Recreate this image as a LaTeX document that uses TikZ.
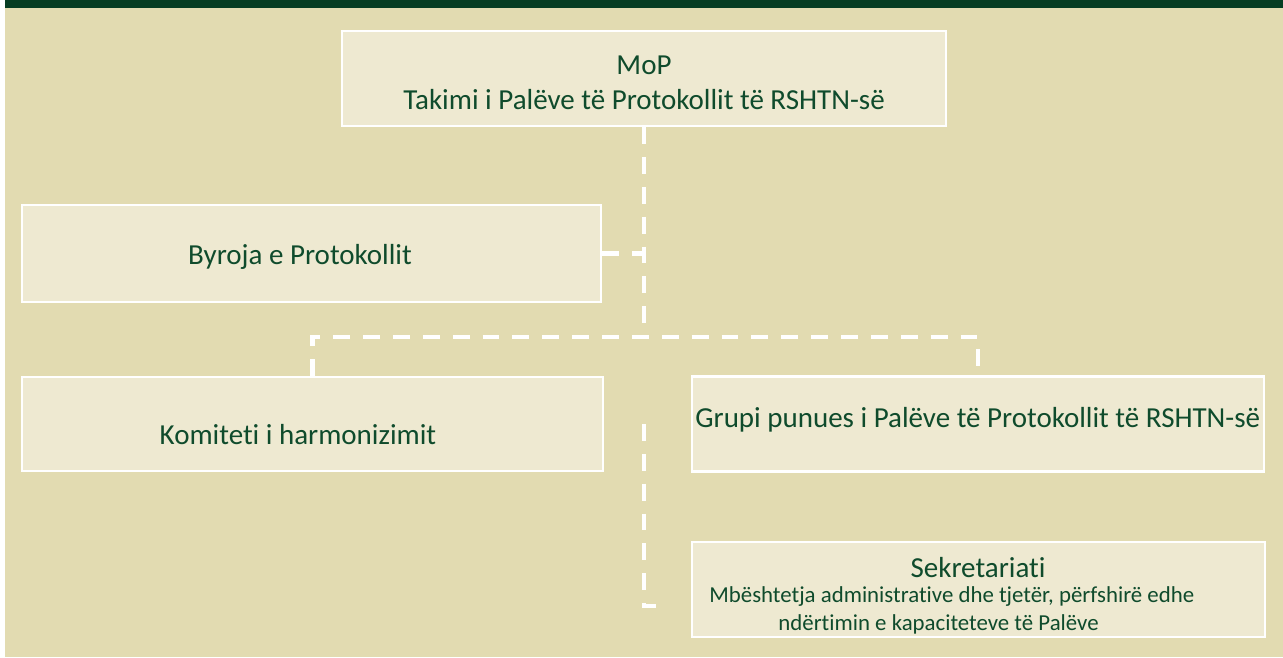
\documentclass[tikz,border=0pt]{standalone}
\usepackage{fontspec}
\setmainfont{Carlito}[Ligatures=NoCommon]
\definecolor{bandgreen}{HTML}{063D22}
\definecolor{beige}{HTML}{E2DBB1}
\definecolor{boxfill}{HTML}{EEE9D1}
\definecolor{textgreen}{HTML}{0F4B2C}
\begin{document}
\begin{tikzpicture}[x=0.02cm,y=-0.02cm,
  box/.style={draw=white,line width=1.2pt,fill=boxfill,inner sep=0pt},
  txt/.style={text=textgreen,font=\fontsize{16.5}{19.8}\selectfont,align=center,inner sep=0pt},
  small/.style={txt,font=\fontsize{13}{15}\selectfont},
  conn/.style={draw=white,line width=2.3pt,dash pattern=on 9.6pt off 7.4pt}]
\useasboundingbox (0,0) rectangle (1283,658);
\fill[white] (0,0) rectangle (1283,658);
\fill[beige] (5,8) rectangle (1283,657);
\fill[bandgreen] (5,0) rectangle (1283,8);
\node[box,minimum width=12.08cm,minimum height=1.9cm] (mop) at (644,78.5) {};
\node[box,minimum width=11.58cm,minimum height=1.94cm] (byr) at (311.5,253.5) {};
\node[box,minimum width=11.62cm,minimum height=1.88cm] (kom) at (312.5,424) {};
\node[box,minimum width=11.44cm,minimum height=1.9cm] (grp) at (978,424) {};
\node[box,minimum width=11.46cm,minimum height=1.9cm] (sek) at (978.5,589.5) {};
\node[txt] (moptxt) at (644,83) {MoP\\Takimi i Palëve të Protokollit të RSHTN-së};
\node[txt] (byrtxt) at (300,257) {Byroja e Protokollit};
\node[txt] (komtxt) at (298,435) {Komiteti i harmonizimit};
\node[txt,anchor=west] (grptxt) at (695,420) {Grupi punues i Palëve të Protokollit të RSHTN-së};
\node[txt] (sektxt) at (978,568) {Sekretariati};
\node[small,anchor=west] (sekline) at (709,597) {Mbështetja administrative dhe tjetër, përfshirë edhe};
\node[small] (seklast) at (938.5,624) {ndërtimin e kapaciteteve të Palëve};
\coordinate (split) at (644,337);
\coordinate (sekjoint) at (644,606);
\draw[conn] (mop.south) -- (split);
\draw[conn] (byr.east) -- (byr.east -| split);
\draw[conn] (kom.north) |- (split) -| (grp.north);
\draw[conn] (grp.west -| sekjoint) -- (sekjoint) -- ++(12,0);
\end{tikzpicture}
\end{document}
